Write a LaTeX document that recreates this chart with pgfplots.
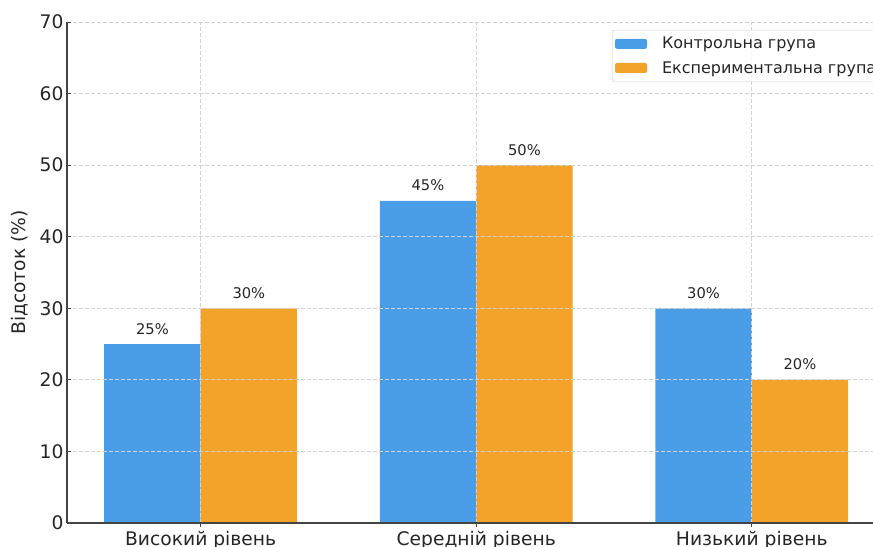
\documentclass[border=0pt]{standalone}
\usepackage{fontspec}
\setmainfont{DejaVu Sans}
\usepackage{pgfplots}
\pgfplotsset{compat=1.18}
\definecolor{cblue}{RGB}{74,158,232}
\definecolor{corange}{RGB}{244,163,42}
\definecolor{spine}{RGB}{68,68,68}
\definecolor{txt}{RGB}{38,38,38}
\definecolor{gridc}{RGB}{210,210,210}
\definecolor{legframe}{RGB}{204,204,204}
\begin{document}
\begin{tikzpicture}
\begin{axis}[
  at={(67bp,24bp)}, anchor=south west,
  scale only axis, width=806bp, height=501bp,
  xmin=-0.485, xmax=2.44, ymin=0, ymax=70,
  axis lines*=left,
  axis on top,
  axis line style={spine, line width=1.2bp},
  tick style={spine, line width=1bp},
  tick align=inside,
  major tick length=4bp,
  ytick={0,10,...,70},
  xtick={0,1,2},
  xticklabels={Високий рівень, Середній рівень, Низький рівень},
  /pgf/number format/assume math mode=true,
  ticklabel style={font=\fontsize{18.7bp}{22bp}\selectfont, text=txt},
  xticklabel style={anchor=north, inner sep=0pt, yshift=-4bp},
  grid=major,
  major grid style={dash pattern=on 4bp off 2bp, color=gridc, line width=0.8bp},
  ylabel={Відсоток (\%)},
  every axis y label/.style={at={(axis description cs:-0.0583,0.5)}, rotate=90, anchor=center, font=\fontsize{18.7bp}{22bp}\selectfont, text=txt},
  ybar, bar width=0.35,
  nodes near coords={\pgfmathprintnumber{\pgfplotspointmeta}\%},
  nodes near coords style={anchor=base, yshift=10bp, font=\fontsize{14.7bp}{17bp}\selectfont, text=txt},
  legend image code/.code={\fill[#1, fill opacity=1] (0bp,-5bp) rectangle (32bp,5bp);},
  legend cell align=left,
  legend style={at={(axis description cs:0.676,0.984)}, anchor=north west,
    draw=legframe, rounded corners=2bp, fill=white, fill opacity=0.8, text opacity=1,
    font=\fontsize{16bp}{19bp}\selectfont, text=txt,
    inner xsep=3bp, inner ysep=5bp, row sep=7bp,
    /tikz/every odd column/.style={column sep=13bp}},
]
\addplot[fill=cblue, draw=none, bar shift=-0.175] coordinates {(0,25) (1,45) (2,30)};
\addlegendentry{Контрольна група}
\addplot[fill=corange, draw=none, bar shift=0.175] coordinates {(0,30) (1,50) (2,20)};
\addlegendentry{Експериментальна група}
\end{axis}
\pgfresetboundingbox
\useasboundingbox (0,0) rectangle (873bp,547bp);
\end{tikzpicture}
\end{document}
